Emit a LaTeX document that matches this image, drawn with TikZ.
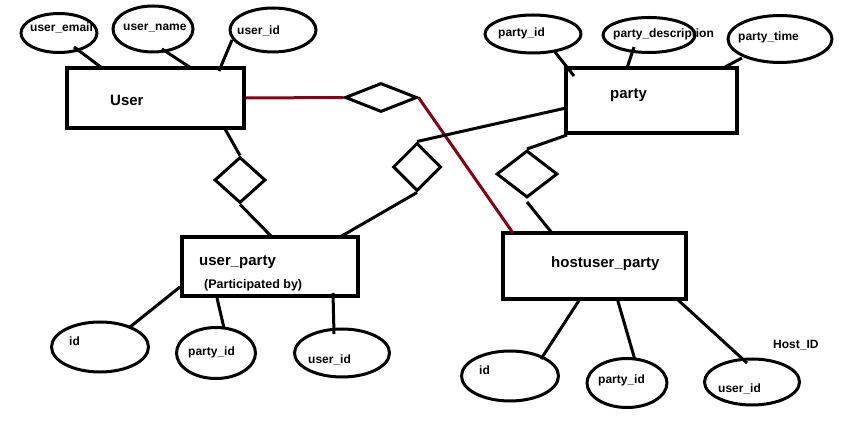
\documentclass[tikz,border=0pt]{standalone}
\usepackage{fontspec}
\setmainfont{Liberation Sans}
\usetikzlibrary{shapes.geometric}
\definecolor{dred}{RGB}{136,0,21}
\begin{document}
\begin{tikzpicture}[x=1pt,y=-1pt,
  ent/.style={draw,line width=3.2pt,rectangle,inner sep=0pt},
  attr/.style={draw,line width=3pt,ellipse,inner sep=0pt},
  rel/.style={draw,line width=3pt,diamond,inner sep=0pt},
  conn/.style={line width=3pt},
  rconn/.style={line width=3pt,draw=dred},
  lbl/.style={anchor=west,inner sep=0pt,font=\bfseries\fontsize{12}{14}\selectfont},
  big/.style={anchor=west,inner sep=0pt,font=\bfseries\fontsize{15}{17}\selectfont}]
\useasboundingbox (0,0) rectangle (856,435);
% entities
\node[ent,minimum width=177pt,minimum height=60pt] (user) at (155.5,98) {};
\node[ent,minimum width=171pt,minimum height=65pt] (party) at (651.5,100.5) {};
\node[ent,minimum width=176pt,minimum height=59pt] (up) at (270,266.5) {};
\node[ent,minimum width=183pt,minimum height=66pt] (hp) at (594.5,266) {};
\node[big] (userT) at (110,100) {User};
\node[big] (partyT) at (610,95) {party};
\node[big] (upT) at (199,262) {user\_party};
\node[lbl,font=\bfseries\fontsize{12.5}{14}\selectfont] (upT2) at (204,285) {(Participated by)};
\node[big] (hpT) at (551,264) {hostuser\_party};
% user attributes
\node[attr,minimum width=76pt,minimum height=39pt] (uemail) at (59,33) {};
\node[attr,minimum width=80pt,minimum height=46pt] (uname) at (153,29) {};
\node[attr,minimum width=86pt,minimum height=44pt] (uid) at (273,30) {};
\node[lbl] at (30,28) {user\_email};
\node[lbl] at (123,28) {user\_name};
\node[lbl] at (237,31) {user\_id};
% party attributes
\node[attr,minimum width=96pt,minimum height=38pt] (pid) at (533,34) {};
\node[attr,minimum width=92pt,minimum height=35pt] (pdesc) at (649,35) {};
\node[attr,minimum width=104pt,minimum height=47pt] (ptime) at (780,39) {};
\node[lbl] at (498,33) {party\_id};
\node[lbl] at (613,34) {party\_description};
\node[lbl] at (738,37) {party\_time};
% user_party attributes
\node[attr,minimum width=97pt,minimum height=50pt] (upid) at (100,347) {};
\node[attr,minimum width=79pt,minimum height=51pt] (uppid) at (216,353) {};
\node[attr,minimum width=95pt,minimum height=48pt] (upuid) at (342,353) {};
\node[lbl] at (69,341) {id};
\node[lbl] at (188,352) {party\_id};
\node[lbl] at (308,360) {user\_id};
% hostuser_party attributes
\node[attr,minimum width=97pt,minimum height=50pt] (hpid) at (510,376) {};
\node[attr,minimum width=80pt,minimum height=49pt] (hppid) at (627,383) {};
\node[attr,minimum width=95pt,minimum height=46pt] (hpuid) at (752,382) {};
\node[lbl] at (479,370) {id};
\node[lbl] at (598,380) {party\_id};
\node[lbl] at (718,389) {user\_id};
\node[lbl] (hostid) at (773,345) {Host\_ID};
% relationships
\node[rel,minimum width=72pt,minimum height=29pt] (r1) at (381,97.5) {};
\node[rel,minimum width=51pt,minimum height=46pt] (r2) at (240,180) {};
\node[rel,minimum width=48pt,minimum height=48pt] (r3) at (417,167) {};
\node[rel,minimum width=61pt,minimum height=47pt] (r4) at (527,174) {};
% coordinates for free line ends
\coordinate (c1a) at (74,47);   \coordinate (c1b) at (102,68);
\coordinate (c2a) at (162,49);  \coordinate (c2b) at (191,68);
\coordinate (c3a) at (232,40);  \coordinate (c3b) at (219,71);
\coordinate (c4a) at (555,52);  \coordinate (c4b) at (574,76);
\coordinate (c5a) at (634,47);  \coordinate (c5b) at (627,68);
\coordinate (c6a) at (742,58);  \coordinate (c6b) at (725,67);
\coordinate (hpTop) at (513,233);
\coordinate (uB) at (225,129);  \coordinate (upT1) at (272,237);
\coordinate (pL) at (566,108);  \coordinate (upT3) at (340,237);
\coordinate (pB) at (567,135);  \coordinate (r4b) at (527,202); \coordinate (hpT2) at (552,233);
\coordinate (e1a) at (180,287); \coordinate (e1b) at (130,327);
\coordinate (e2a) at (217,298); \coordinate (e2b) at (224,328);
\coordinate (e3a) at (333,293); \coordinate (e3b) at (334,334);
\coordinate (f1a) at (580,299); \coordinate (f1b) at (541,359);
\coordinate (f2a) at (617,298); \coordinate (f2b) at (635,360);
\coordinate (f3a) at (677,299); \coordinate (f3b) at (747,363);
% connectors
\draw[conn] (c1a) -- (c1b);
\draw[conn] (c2a) -- (c2b);
\draw[conn] (c3a) -- (c3b);
\draw[conn] (c4a) -- (c4b);
\draw[conn] (c5a) -- (c5b);
\draw[conn] (c6a) -- (c6b);
\draw[rconn] (user.east) -- (r1.west);
\draw[rconn] (r1.east) -- (hpTop);
\draw[conn] (uB) -- (r2.north);
\draw[conn] (r2.south) -- (upT1);
\draw[conn] (pL) -- (r3.north);
\draw[conn] (r3.south) -- (upT3);
\draw[conn] (pB) -- (r4.north);
\draw[conn] (r4b) -- (hpT2);
\draw[conn] (e1a) -- (e1b);
\draw[conn] (e2a) -- (e2b);
\draw[conn] (e3a) -- (e3b);
\draw[conn] (f1a) -- (f1b);
\draw[conn] (f2a) -- (f2b);
\draw[conn] (f3a) -- (f3b);
\end{tikzpicture}
\end{document}
